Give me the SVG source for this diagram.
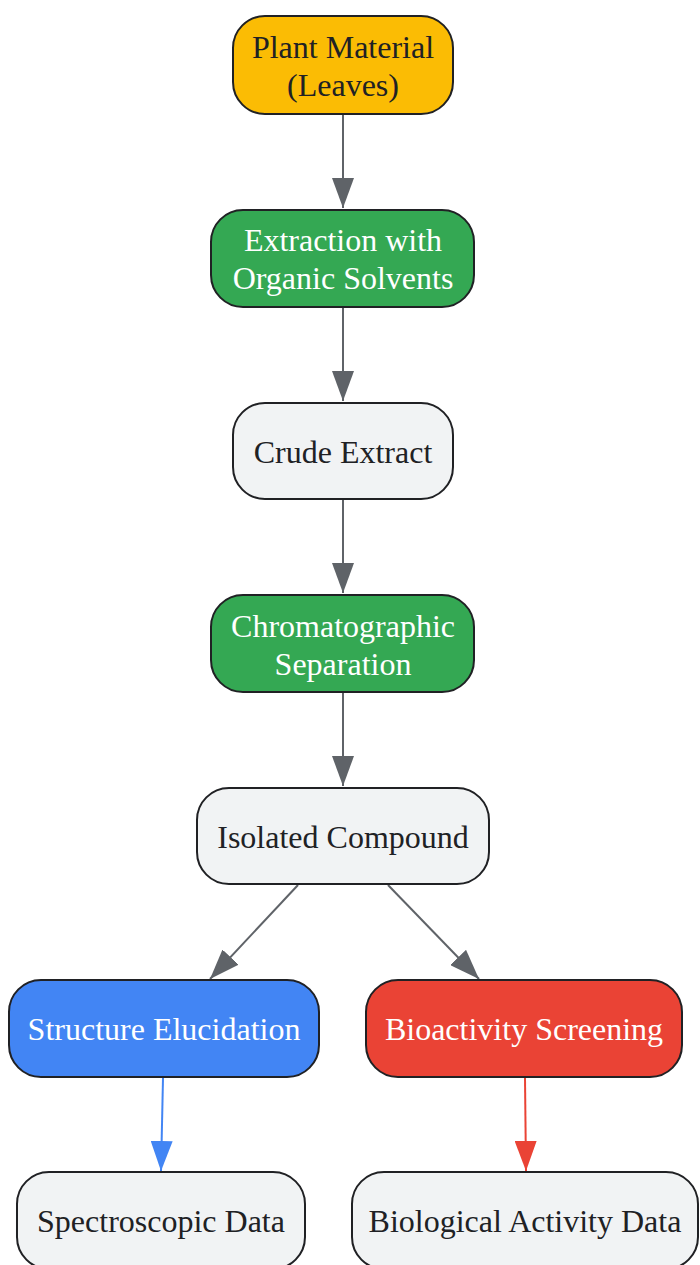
<svg xmlns="http://www.w3.org/2000/svg" width="700" height="1265" viewBox="0 0 700 1265">
<style>
.n{stroke:#202124;stroke-width:2}
.t{font-family:"Liberation Serif","Times New Roman",serif;font-size:32px;text-anchor:middle;dominant-baseline:central}
.d{fill:#202124}
.w{fill:#ffffff}
.e{fill:none;stroke-width:2}
</style>
<defs>
<marker id="ag" viewBox="0 0 30 22" refX="30" refY="11" markerWidth="30" markerHeight="22" markerUnits="userSpaceOnUse" orient="auto"><path d="M0,0 L30,11 L0,22 Z" fill="#5F6368"/></marker>
<marker id="ab" viewBox="0 0 30 22" refX="30" refY="11" markerWidth="30" markerHeight="22" markerUnits="userSpaceOnUse" orient="auto"><path d="M0,0 L30,11 L0,22 Z" fill="#4285F4"/></marker>
<marker id="ar" viewBox="0 0 30 22" refX="30" refY="11" markerWidth="30" markerHeight="22" markerUnits="userSpaceOnUse" orient="auto"><path d="M0,0 L30,11 L0,22 Z" fill="#EA4335"/></marker>
</defs>
<rect width="700" height="1265" fill="#ffffff"/>
<g id="connectors">
<path class="e" stroke="#5F6368" d="M343,115 L343,208" marker-end="url(#ag)"/>
<path class="e" stroke="#5F6368" d="M343,308 L343,401" marker-end="url(#ag)"/>
<path class="e" stroke="#5F6368" d="M343,500 L343,593" marker-end="url(#ag)"/>
<path class="e" stroke="#5F6368" d="M343,693 L343,786" marker-end="url(#ag)"/>
<path class="e" stroke="#5F6368" d="M298,885 L210,979" marker-end="url(#ag)"/>
<path class="e" stroke="#5F6368" d="M388,885 L479,979" marker-end="url(#ag)"/>
<path class="e" stroke="#4285F4" d="M163,1078 L161,1171" marker-end="url(#ab)"/>
<path class="e" stroke="#EA4335" d="M525,1078 L526,1171" marker-end="url(#ar)"/>
</g>
<g id="plant">
<rect class="n" x="233" y="16" width="220" height="98" rx="32" fill="#FBBC04"/>
<text class="t d" x="343" y="47">Plant Material</text>
<text class="t d" x="343" y="85">(Leaves)</text>
</g>
<g id="extraction">
<rect class="n" x="211" y="210" width="263" height="97" rx="32" fill="#34A853"/>
<text class="t w" x="343" y="240">Extraction with</text>
<text class="t w" x="343" y="278">Organic Solvents</text>
</g>
<g id="crude">
<rect class="n" x="233" y="403" width="220" height="96" rx="32" fill="#F1F3F4"/>
<text class="t d" x="343" y="452">Crude Extract</text>
</g>
<g id="chromatographic">
<rect class="n" x="211" y="595" width="263" height="97" rx="32" fill="#34A853"/>
<text class="t w" x="343" y="626">Chromatographic</text>
<text class="t w" x="343" y="664">Separation</text>
</g>
<g id="isolated">
<rect class="n" x="197" y="788" width="292" height="96" rx="32" fill="#F1F3F4"/>
<text class="t d" x="343" y="837">Isolated Compound</text>
</g>
<g id="structure">
<rect class="n" x="9" y="980" width="310" height="97" rx="32" fill="#4285F4"/>
<text class="t w" x="164" y="1029">Structure Elucidation</text>
</g>
<g id="bioactivity">
<rect class="n" x="366" y="980" width="316" height="97" rx="32" fill="#EA4335"/>
<text class="t w" x="524" y="1029">Bioactivity Screening</text>
</g>
<g id="spectroscopic">
<rect class="n" x="17" y="1172" width="288" height="97" rx="32" fill="#F1F3F4"/>
<text class="t d" x="161" y="1221">Spectroscopic Data</text>
</g>
<g id="biological">
<rect class="n" x="352" y="1172" width="346" height="97" rx="32" fill="#F1F3F4"/>
<text class="t d" x="525" y="1221">Biological Activity Data</text>
</g>
</svg>
